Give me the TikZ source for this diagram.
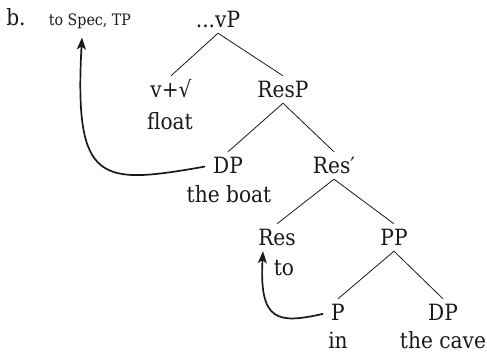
\documentclass[tikz,border=0pt]{standalone}
\usepackage{fontspec}
\setmainfont{DejaVu Serif}[FakeStretch=0.9]
\usetikzlibrary{arrows.meta,positioning}
\definecolor{inkcol}{RGB}{25,25,25}

\begin{document}
\begin{tikzpicture}[x=1pt,y=-1pt,
  cat/.style ={anchor=base,font=\fontsize{22.4}{26}\selectfont,text=inkcol,
               text height=15pt,text depth=0pt,inner xsep=2pt,inner ysep=6pt},
  word/.style={anchor=base,font=\fontsize{22.4}{26}\selectfont,text=inkcol,
               inner sep=0pt},
  note/.style={anchor=base,font=\fontsize{15.8}{18}\selectfont,text=inkcol,
               inner sep=0pt},
  branch/.style={draw=inkcol,line width=0.8pt},
  move/.style={draw=inkcol,line width=1.7pt,shorten <=6pt,
               -{Stealth[length=12pt,width=9pt,inset=3pt]}}
]
\useasboundingbox (0,0) rectangle (487,354);
% label and landing site
\node[word] (lbl)  at (16,25)  {b.};
\node[note] (spec) at (90,25)  {to Spec, TP};
% the tree
\node[cat]  (vp)     at (218,27)  {...vP};
\node[cat]  (vroot)  at (171,97)  {v+√};
\node[word] (float)  at (170,129) {float};
\node[cat]  (resp)   at (283,97)  {ResP};
\node[cat]  (dpb)    at (228,173) {DP};
\node[word] (boat)   at (229,202) {the boat};
\node[cat]  (resbar) at (334,173) {Res′};
\node[cat]  (res)    at (277,245) {Res};
\node[word] (to)     at (284,275) {to};
\node[cat]  (pp)     at (394,245) {PP};
\node[cat]  (p)      at (338,320) {P};
\node[word] (in)     at (338,348) {in};
\node[cat]  (dpc)    at (443,320) {DP};
\node[word] (cave)   at (443,348) {the cave};
\foreach \s/\d in {vp/vroot,vp/resp,resp/dpb,resp/resbar,
                   resbar/res,resbar/pp,pp/p,pp/dpc}
  \draw[branch] (\s.south)--(\d.north);
% movement arrows
\draw[move] (dpb.west) .. controls (100,185) and (74,185)
  .. ([xshift=-8pt,yshift=-9pt]spec.south);
\draw[move] (p.west) .. controls (278,324) and (259,322)
  .. ([xshift=-14pt]res.south);
\end{tikzpicture}
\end{document}
